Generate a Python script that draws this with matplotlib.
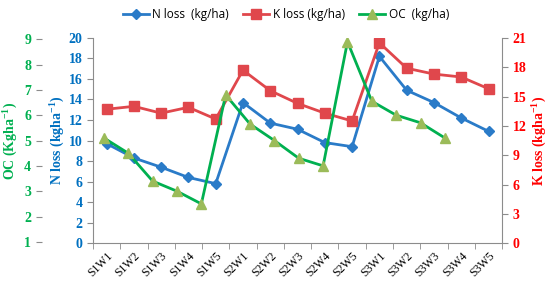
import matplotlib
matplotlib.use("Agg")
import matplotlib.pyplot as plt
import numpy as np

# data
weeks = ["S1W1", "S1W2", "S1W3", "S1W4", "S1W5",
         "S2W1", "S2W2", "S2W3", "S2W4", "S2W5",
         "S3W1", "S3W2", "S3W3", "S3W4", "S3W5"]
n_loss = [9.7, 8.3, 7.4, 6.4, 5.8, 13.7, 11.7, 11.1, 9.8, 9.4, 18.2, 14.9, 13.7, 12.2, 10.9]
k_loss = [13.7, 14.0, 13.3, 13.9, 12.7, 17.7, 15.6, 14.3, 13.3, 12.5, 20.5, 17.9, 17.3, 17.0, 15.8]
oc = [5.1, 4.5, 3.4, 3.0, 2.5, 6.8, 5.65, 5.0, 4.3, 4.0, 8.9, 6.55, 6.0, 5.7, 5.1]

c_n = "#2A7BC8"
c_k = "#E0474C"
c_oc = "#00B050"
c_oc_mk = "#9BBB59"
c_n_txt = "#0070C0"
c_k_txt = "#FF0000"
spine_c = "#8C8C8C"
serif = "Liberation Serif"

plt.rcParams["mathtext.fontset"] = "custom"
plt.rcParams["mathtext.rm"] = "Liberation Serif:bold"
plt.rcParams["mathtext.default"] = "rm"

fig = plt.figure(figsize=(5.5, 2.94), dpi=100)
rect = [0.169, 0.173, 0.744, 0.698]
ax = fig.add_axes(rect)
x = np.arange(len(weeks))

# N loss (left, inner)
ln_n, = ax.plot(x, n_loss, color=c_n, lw=2, marker="D", ms=5.5, mfc=c_n, mec=c_n,
                label="N loss  (kg/ha)", zorder=3)
ax.set_ylim(0, 20)
ax.set_yticks(np.arange(0, 21, 2))
ax.set_xlim(-0.5, len(weeks) - 0.5)
ax.set_xticks(x)
ax.set_xticklabels(weeks, rotation=45, ha="right", rotation_mode="anchor",
                   fontfamily=serif, fontsize=8.5)
ax.set_xticks(np.arange(-0.5, len(weeks)), minor=True)
ax.tick_params(axis="x", which="major", length=0, pad=5)
ax.tick_params(axis="x", which="minor", length=4, color=spine_c)
ax.tick_params(axis="y", colors=spine_c, labelcolor=c_n_txt, length=4)
for t in ax.get_yticklabels():
    t.set_fontfamily(serif)
    t.set_fontweight("bold")
    t.set_fontsize(10)
ax.set_ylabel("N loss (kgha$^{-1}$)", color=c_n_txt, fontfamily=serif,
              fontweight="bold", fontsize=10, labelpad=1)
for s in ["top", "right"]:
    ax.spines[s].set_visible(False)
for s in ["left", "bottom"]:
    ax.spines[s].set_color(spine_c)

# K loss (right)
axk = ax.twinx()
ln_k, = axk.plot(x, k_loss, color=c_k, lw=2, marker="s", ms=7, mfc=c_k, mec=c_k,
                 label="K loss (kg/ha)", zorder=2)
axk.set_ylim(0, 21)
axk.set_yticks(np.arange(0, 22, 3))
axk.tick_params(axis="y", colors=spine_c, labelcolor=c_k_txt, length=4)
for t in axk.get_yticklabels():
    t.set_fontfamily(serif)
    t.set_fontweight("bold")
    t.set_fontsize(10)
axk.set_ylabel("K loss (kgha$^{-1}$)", color=c_k_txt, fontfamily=serif,
               fontweight="bold", fontsize=10, labelpad=3)
for s in ["top", "left", "bottom"]:
    axk.spines[s].set_visible(False)
axk.spines["right"].set_color(spine_c)

# OC (outer left, on its own x scale)
axo = fig.add_axes(rect, frameon=False)
xo = np.arange(len(oc))
ln_o, = axo.plot(xo, oc, color=c_oc, lw=2, marker="^", ms=7, mfc=c_oc_mk, mec=c_oc_mk,
                 label="OC  (kg/ha)", zorder=4)
axo.set_xlim(-0.45, 16.35)
axo.set_ylim(0.95, 9.05)
axo.set_yticks(np.arange(1, 10))
axo.xaxis.set_visible(False)
axo.spines["left"].set_visible(True)
axo.spines["left"].set_position(("outward", 37))
axo.spines["left"].set_color(spine_c)
axo.tick_params(axis="y", colors=spine_c, labelcolor=c_oc, length=4)
for t in axo.get_yticklabels():
    t.set_fontfamily(serif)
    t.set_fontweight("bold")
    t.set_fontsize(10)
axo.set_ylabel("OC (Kgha$^{-1}$)", color=c_oc, fontfamily=serif,
               fontweight="bold", fontsize=10, labelpad=3)

fig.legend(handles=[ln_n, ln_k, ln_o], loc="upper center", bbox_to_anchor=(0.52, 1.01),
           ncol=3, frameon=False, handlelength=2.2, columnspacing=1.2,
           handletextpad=0.3, prop={"family": "Open Sans", "size": 8.5})

fig.savefig("out.png", dpi=100)
